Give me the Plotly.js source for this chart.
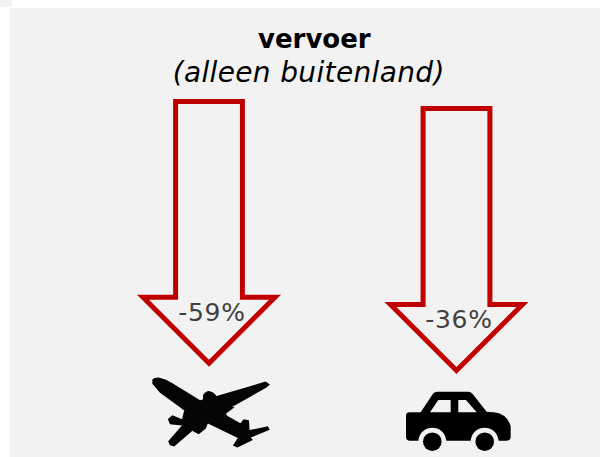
<!DOCTYPE html>
<html><head><meta charset="utf-8">
<script src="https://cdn.plot.ly/plotly-3.0.1.min.js"></script>
<style>html,body{margin:0;padding:0;background:#fff}#c{width:600px;height:457px}
.textpoint text{letter-spacing:.7px}
.annotation[data-index="1"] text{letter-spacing:.35px}
</style>
</head><body><div id="c"></div>
<script>
// Data
const categories = ['vliegtuig', 'auto'];
const changes = [-59, -36];
const titleMain = 'vervoer';
const titleSub = '(alleen buitenland)';

// Layout of the pictograms, in page pixels
const arrowCentre = [209, 456.5];
const arrowTop = [101.5, 108.5];
const shoulderY = [297.3, 304.5];
const tipY = [363.2, 370.5];
const labelX = [212, 459];
const labelY = [315, 322];
const shaftHalf = 33.4;
const headHalf = 66;

const RED = '#c00000', PANEL = '#f2f2f2', INK = '#404040';

function arrowPath(i){
  const c = arrowCentre[i], t = arrowTop[i], s = shoulderY[i], p = tipY[i];
  return `M${c-shaftHalf},${t}L${c+shaftHalf},${t}L${c+shaftHalf},${s}L${c+headHalf},${s}L${c},${p}L${c-headHalf},${s}L${c-shaftHalf},${s}Z`;
}
function mapPts(str, ox, oy){
  return str.replace(/(-?[\d.]+),(-?[\d.]+)/g, (m,a,b)=>`${(ox+a/3).toFixed(2)},${(oy+b/3).toFixed(2)}`);
}
const planePath = mapPts('M10,24 Q14,19 28,20 Q45,24 62,34 L100,57 L150,88 L162,84 L162,70 Q170,60 176,60 Q190,62 198,76 L346,32 L355,38 L348,44 L252,98 L238,100 L248,106 L224,124 L230,134 L272,158 L282,145 L294,147 L296,178 L352,166 L355,172 L298,195 L304,203 L262,223 L253,219 L268,197 L172,150 L165,168 L146,183 L131,175 L128,172 L72,220 L62,217 L58,208 L102,158 L62,154 L57,142 L68,133 L98,146 L106,114 L32,60 L10,34 Z', 150, 372);
const carPath = mapPts('M28,127 L62,127 L100,70 Q104,65 112,65 L204,65 Q212,65 218,72 L260,125 L280,127 Q320,130 332,168 L332,200 Q332,212 320,212 L296,212 C290,160 218,160 212,212 L139,212 C133,160 61,160 55,212 L30,212 Q18,212 18,200 L18,138 Q18,127 28,127 Z M90,127 L152,127 L152,90 L115,90 Z M175,90 L175,127 L230,127 L198,90 Z', 400, 370);

const noLine = {width:0};
const shapes = [
  {type:'rect',layer:'below',xref:'x',yref:'y',x0:0,x1:12,y0:0,y1:7,fillcolor:PANEL,line:noLine},
  {type:'rect',layer:'below',xref:'x',yref:'y',x0:10,x1:600,y0:8,y1:457,fillcolor:PANEL,line:noLine},
  {type:'path',xref:'x',yref:'y',path:arrowPath(0),fillcolor:'rgba(0,0,0,0)',line:{color:RED,width:5}},
  {type:'path',xref:'x',yref:'y',path:arrowPath(1),fillcolor:'rgba(0,0,0,0)',line:{color:RED,width:5}},
  {type:'path',xref:'x',yref:'y',path:planePath,fillcolor:'#050505',line:{color:'#050505',width:2}},
  {type:'path',xref:'x',yref:'y',path:carPath,fillcolor:'#000000',fillrule:'evenodd',line:noLine},
  {type:'circle',xref:'x',yref:'y',x0:423,x1:441.6,y0:432.4,y1:451,fillcolor:'#000000',line:noLine},
  {type:'circle',xref:'x',yref:'y',x0:475.4,x1:494,y0:432.4,y1:451,fillcolor:'#000000',line:noLine}
];

const trace = {
  type:'scatter', mode:'text', x:labelX, y:labelY,
  customdata:categories,
  text:changes.map(v=>v+'%'), textposition:'middle center',
  textfont:{family:'"DejaVu Sans"',size:25,color:INK},
  hoverinfo:'skip', showlegend:false
};

const layout = {
  width:600,height:457,margin:{l:0,r:0,t:0,b:0},
  paper_bgcolor:'#ffffff',plot_bgcolor:'rgba(0,0,0,0)',showlegend:false,
  xaxis:{range:[0,600],visible:false,fixedrange:true},
  yaxis:{range:[457,0],visible:false,fixedrange:true},
  shapes,
  annotations:[
    {xref:'x',yref:'y',x:314,y:39,text:'<b>'+titleMain+'</b>',showarrow:false,xanchor:'center',yanchor:'middle',font:{family:'"DejaVu Sans"',size:26,color:'#000'}},
    {xref:'x',yref:'y',x:308.5,y:72,text:'<i>'+titleSub+'</i>',showarrow:false,xanchor:'center',yanchor:'middle',font:{family:'"DejaVu Sans"',size:28,color:'#000'}}
  ]
};
Plotly.newPlot('c',[trace],layout,{displayModeBar:false,staticPlot:true});
</script></body></html>
